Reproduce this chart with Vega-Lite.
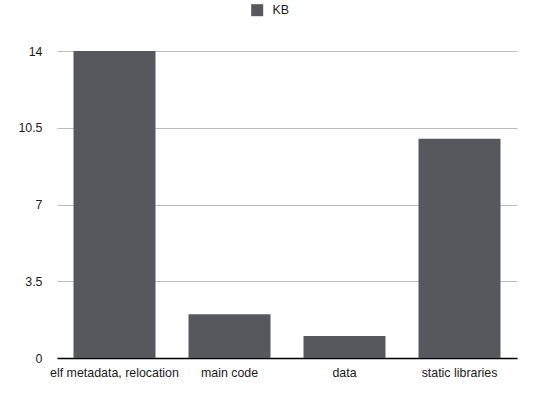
{
  "$schema": "https://vega.github.io/schema/vega-lite/v6.json",
  "width": 460,
  "height": 307,
  "autosize": {"type": "none"},
  "padding": {"left": 57, "top": 51, "right": 26, "bottom": 35},
  "background": "white",
  "config": {
    "view": {"stroke": null},
    "font": "Liberation Sans"
  },
  "data": {
    "values": [
      {"category": "elf metadata, relocation", "KB": 14, "series": "KB"},
      {"category": "main code", "KB": 2, "series": "KB"},
      {"category": "data", "KB": 1, "series": "KB"},
      {"category": "static libraries", "KB": 10, "series": "KB"}
    ]
  },
  "mark": {"type": "bar"},
  "encoding": {
    "x": {
      "field": "category",
      "type": "nominal",
      "sort": null,
      "scale": {"paddingInner": 0.287, "paddingOuter": 0.1435},
      "axis": {
        "title": null,
        "labelAngle": 0,
        "labelFontSize": 12.4,
        "labelColor": "#1a1a1a",
        "labelPadding": 8,
        "ticks": false,
        "domainColor": "#000000",
        "domainWidth": 1.5,
        "grid": false
      }
    },
    "y": {
      "field": "KB",
      "type": "quantitative",
      "scale": {"domain": [0, 14], "nice": false},
      "axis": {
        "title": null,
        "values": [0, 3.5, 7, 10.5, 14],
        "labelExpr": "'' + datum.value",
        "labelFontSize": 12.4,
        "labelColor": "#1a1a1a",
        "labelPadding": 15,
        "ticks": false,
        "domain": false,
        "grid": true,
        "gridColor": "#bdbdbd",
        "gridWidth": 1
      }
    },
    "color": {
      "field": "series",
      "type": "nominal",
      "scale": {"range": ["#56585d"]},
      "legend": {
        "title": null,
        "orient": "none",
        "legendX": 194,
        "legendY": -47,
        "symbolType": "square",
        "symbolSize": 144,
        "symbolStrokeWidth": 0,
        "labelFontSize": 12.4,
        "labelColor": "#1a1a1a",
        "labelOffset": 9
      }
    }
  }
}
